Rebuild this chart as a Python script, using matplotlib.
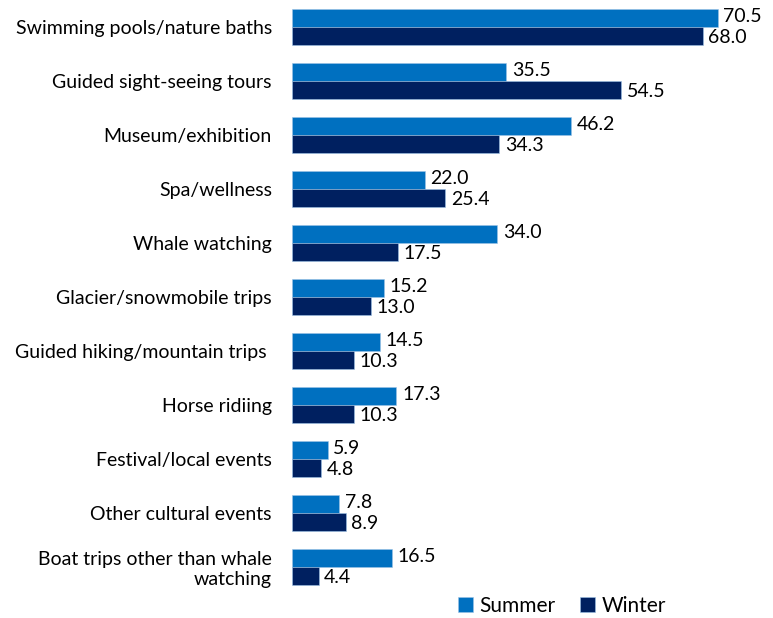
import matplotlib
matplotlib.use("Agg")
import matplotlib.pyplot as plt
import numpy as np

categories = ["Swimming pools/nature baths", "Guided sight-seeing tours", "Museum/exhibition",
              "Spa/wellness", "Whale watching", "Glacier/snowmobile trips",
              "Guided hiking/mountain trips ", "Horse ridiing", "Festival/local events",
              "Other cultural events", "Boat trips other than whale\nwatching"]
summer = [70.5, 35.5, 46.2, 22.0, 34.0, 15.2, 14.5, 17.3, 5.9, 7.8, 16.5]
winter = [68.0, 54.5, 34.3, 25.4, 17.5, 13.0, 10.3, 10.3, 4.8, 8.9, 4.4]

plt.rcParams['font.family'] = ['Lato', 'DejaVu Sans']
fig = plt.figure(figsize=(7.73, 6.18), dpi=100)
ax = fig.add_axes([292/773, 24/618, 453/773, 594/618])

y = np.arange(len(categories))
h = 0.333
c_s, c_w = "#0070C0", "#002060"
bs = ax.barh(y - h/2, summer, height=h, color=c_s, edgecolor="#9DC3E6", linewidth=0.4, label="Summer")
bw = ax.barh(y + h/2, winter, height=h, color=c_w, edgecolor="#9DC3E6", linewidth=0.4, label="Winter")

for yi, v in zip(y - h/2, summer):
    ax.annotate(f"{v:.1f}", (v, yi), xytext=(4, 1), textcoords="offset points",
                va="center", ha="left", fontsize=14)
for yi, v in zip(y + h/2, winter):
    ax.annotate(f"{v:.1f}", (v, yi), xytext=(4, -1), textcoords="offset points",
                va="center", ha="left", fontsize=14)

ax.set_ylim(len(categories) - 0.5, -0.5)
ax.set_xlim(0, 75)
ax.set_yticks(y)
ax.set_yticklabels(categories, fontsize=14)
ax.tick_params(axis="y", length=0, pad=14.5)
ax.set_xticks([])
for s in ax.spines.values():
    s.set_visible(False)

fig.legend(handles=[bs, bw], labels=["Summer", "Winter"], loc="center", bbox_to_anchor=(562/773, 1 - 606/618),
           ncol=2, frameon=False, fontsize=15, handlelength=0.7, handleheight=0.7,
           handletextpad=0.3, columnspacing=1.2)

fig.savefig("out.png", dpi=100)
